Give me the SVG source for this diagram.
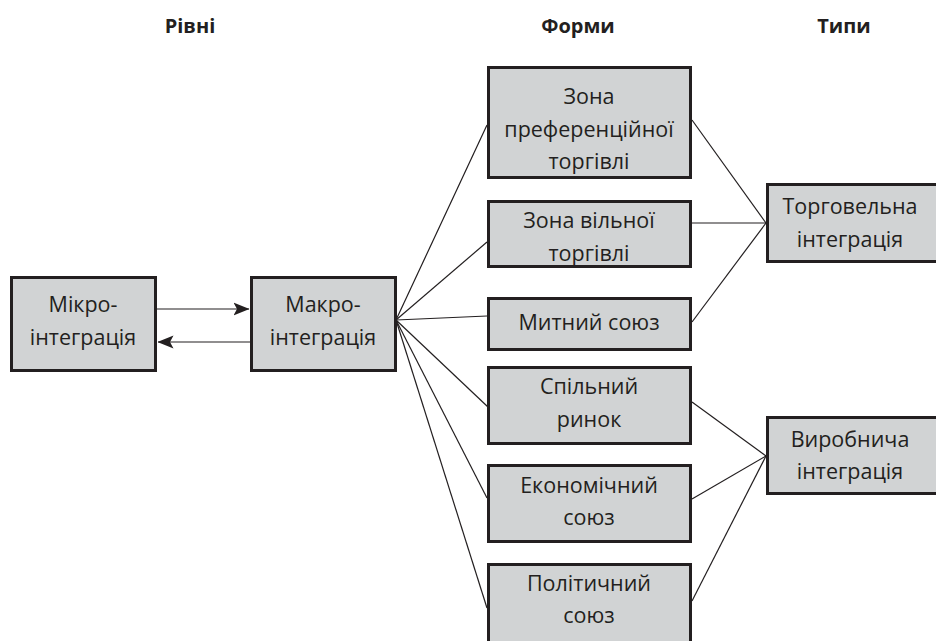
<svg xmlns="http://www.w3.org/2000/svg" width="936" height="641" viewBox="0 0 936 641">
<defs>
<style>
.box{fill:#d1d3d4;stroke:#231f20;stroke-width:3}
.t{font-family:"Open Sans","Liberation Sans",sans-serif;font-size:21.5px;fill:#231f20;text-anchor:middle}
.h{font-family:"Open Sans","Liberation Sans",sans-serif;font-size:20px;font-weight:bold;fill:#231f20;text-anchor:middle}
.ln{stroke:#231f20;stroke-width:1.2;fill:none}
</style>
<marker id="ah" viewBox="0 0 16 14" refX="15.5" refY="7" markerWidth="16" markerHeight="14" markerUnits="userSpaceOnUse" orient="auto">
<path d="M0,0.5 L16,7 L0,13.5 L3.5,7 Z" fill="#231f20"/>
</marker>
</defs>
<rect width="936" height="641" fill="#ffffff"/>
<g id="headers">
<text class="h" x="190" y="33">Рівні</text>
<text class="h" x="578" y="33">Форми</text>
<text class="h" x="844" y="33">Типи</text>
</g>
<g id="connectors">
<line class="ln" x1="157" y1="309" x2="249" y2="309" marker-end="url(#ah)"/>
<line class="ln" x1="250" y1="342" x2="158" y2="342" marker-end="url(#ah)"/>
<line class="ln" x1="396" y1="320" x2="487" y2="125"/>
<line class="ln" x1="396" y1="320" x2="487" y2="242"/>
<line class="ln" x1="396" y1="320" x2="487" y2="316"/>
<line class="ln" x1="396" y1="320" x2="488" y2="407"/>
<line class="ln" x1="396" y1="320" x2="487" y2="498"/>
<line class="ln" x1="396" y1="320" x2="487" y2="608"/>
<line class="ln" x1="692" y1="120" x2="766" y2="223"/>
<line class="ln" x1="692" y1="223" x2="766" y2="223"/>
<line class="ln" x1="692" y1="322" x2="766" y2="223"/>
<line class="ln" x1="692" y1="402" x2="766" y2="456"/>
<line class="ln" x1="692" y1="499" x2="766" y2="456"/>
<line class="ln" x1="692" y1="601" x2="766" y2="456"/>
</g>
<g id="mikro">
<rect class="box" x="11.5" y="277.5" width="144" height="93"/>
<text class="t" x="83" y="312">Мікро-</text>
<text class="t" x="83" y="345">інтеграція</text>
</g>
<g id="makro">
<rect class="box" x="251.5" y="277.5" width="144" height="93"/>
<text class="t" x="323" y="312">Макро-</text>
<text class="t" x="323" y="345">інтеграція</text>
</g>
<g id="zona-pref">
<rect class="box" x="488.5" y="67.5" width="202" height="110"/>
<text class="t" x="589" y="104">Зона</text>
<text class="t" x="589" y="137">преференційної</text>
<text class="t" x="589" y="169">торгівлі</text>
</g>
<g id="zona-vilnoi">
<rect class="box" x="488.5" y="201.5" width="202" height="65"/>
<text class="t" x="589" y="228">Зона вільної</text>
<text class="t" x="589" y="261">торгівлі</text>
</g>
<g id="mytnyi">
<rect class="box" x="488.5" y="298.5" width="202" height="51"/>
<text class="t" x="589" y="330">Митний союз</text>
</g>
<g id="spilnyi">
<rect class="box" x="488.5" y="367.5" width="202" height="76"/>
<text class="t" x="589" y="394">Спільний</text>
<text class="t" x="589" y="427">ринок</text>
</g>
<g id="ekonom">
<rect class="box" x="488.5" y="465.5" width="202" height="76"/>
<text class="t" x="589" y="493">Економічний</text>
<text class="t" x="589" y="525">союз</text>
</g>
<g id="polit">
<rect class="box" x="488.5" y="564.5" width="202" height="82"/>
<text class="t" x="589" y="591">Політичний</text>
<text class="t" x="589" y="623">союз</text>
</g>
<g id="torg">
<rect class="box" x="767.5" y="184.5" width="180" height="77"/>
<text class="t" x="850" y="214">Торговельна</text>
<text class="t" x="850" y="247">інтеграція</text>
</g>
<g id="vyrob">
<rect class="box" x="767.5" y="417.5" width="180" height="76"/>
<text class="t" x="850" y="447">Виробнича</text>
<text class="t" x="850" y="479">інтеграція</text>
</g>
</svg>
